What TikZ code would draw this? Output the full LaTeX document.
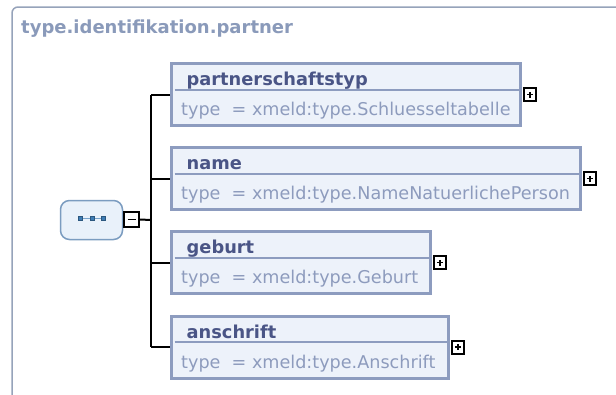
\documentclass[tikz,border=0pt]{standalone}
\usepackage{fontspec}
\setmainfont{DejaVu Sans}
\definecolor{framec}{RGB}{150,163,186}
\definecolor{ttlc}{RGB}{138,154,186}
\definecolor{bordc}{RGB}{141,156,191}
\definecolor{boxfillc}{RGB}{237,242,250}
\definecolor{enamec}{RGB}{74,85,134}
\definecolor{etypec}{RGB}{141,155,189}
\definecolor{seqfillc}{RGB}{233,241,250}
\definecolor{seqdrawc}{RGB}{123,156,192}
\definecolor{seqiconc}{RGB}{61,124,181}
\begin{document}
\begin{tikzpicture}[x=1pt,y=-1pt,
  elem/.style={draw=bordc, line width=3pt, fill=boxfillc, anchor=north west,
    minimum height=62pt, inner sep=0pt, outer sep=0pt},
  ename/.style={anchor=base west, inner sep=0pt, text=enamec,
    font=\fontsize{17.8}{20}\selectfont\bfseries},
  etype/.style={anchor=base west, inner sep=0pt, text=etypec,
    font=\fontsize{17.6}{20}\selectfont},
  divider/.style={draw=bordc, line width=2pt},
  conn/.style={draw=black, line width=2pt},
  plusbox/.style={draw=black, line width=2pt, fill=white, minimum width=12pt,
    minimum height=13pt, inner sep=0pt, anchor=west},
  sign/.style={draw=black, line width=1.8pt},
  seqbox/.style={draw=seqdrawc, fill=seqfillc, line width=1.5pt, rounded corners=9pt,
    minimum width=62pt, minimum height=39pt, inner sep=0pt},
  minusbox/.style={draw=black, line width=2pt, fill=white, minimum width=15pt,
    minimum height=15pt, inner sep=0pt},
  sq/.style={fill=seqiconc, draw=seqiconc!70!black, line width=0.4pt, minimum size=4pt, inner sep=0pt}
]
\useasboundingbox (0,0) rectangle (616,394);
\fill[white] (0,0) rectangle (616,394);
% outer frame
\draw[framec, line width=1.5pt, rounded corners=6pt] (618,7) -- (12,7) -- (12,396);
\node[anchor=base west, inner sep=0pt, text=ttlc, font=\fontsize{18}{20}\selectfont\bfseries]
  (title) at (21,33) {type.identifikation.partner};

% element boxes
\node[elem, minimum width=349pt] (b1) at (171.5,63.5) {};
\node[elem, minimum width=409pt] (b2) at (171.5,147.5) {};
\node[elem, minimum width=259pt] (b3) at (171.5,231.5) {};
\node[elem, minimum width=277pt] (b4) at (171.5,316) {};

\foreach \b in {b1,b2,b3,b4}{
  \draw[divider] ([xshift=3pt,yshift=-26pt]\b.north west) -- ([xshift=-1pt,yshift=-26pt]\b.north east);
}

\node[ename] (n1) at ([xshift=15pt,yshift=-22pt]b1.north west) {partnerschaftstyp};
\node[etype] (t1) at ([xshift=9.5pt,yshift=-52pt]b1.north west) {type\ \ = xmeld:type.Schluesseltabelle};
\node[ename] (n2) at ([xshift=15pt,yshift=-22pt]b2.north west) {name};
\node[etype] (t2) at ([xshift=9.5pt,yshift=-52pt]b2.north west) {type\ \ = xmeld:type.NameNatuerlichePerson};
\node[ename] (n3) at ([xshift=15pt,yshift=-22pt]b3.north west) {geburt};
\node[etype] (t3) at ([xshift=9.5pt,yshift=-52pt]b3.north west) {type\ \ = xmeld:type.Geburt};
\node[ename] (n4) at ([xshift=15pt,yshift=-22pt]b4.north west) {anschrift};
\node[etype] (t4) at ([xshift=9.5pt,yshift=-52pt]b4.north west) {type\ \ = xmeld:type.Anschrift};

% plus boxes
\foreach \b in {b1,b2,b3,b4}{
  \node[plusbox] (p\b) at ([xshift=2.5pt]\b.east) {};
  \draw[sign] ([xshift=-3pt]p\b.center) -- ([xshift=3pt]p\b.center);
  \draw[sign] ([yshift=-3pt]p\b.center) -- ([yshift=3pt]p\b.center);
}

% sequence compositor
\node[seqbox] (seq) at (91.5,220) {};
\draw[seqiconc!70, line width=0.8pt] ([xshift=-11pt,yshift=1.5pt]seq.center) -- ([xshift=12pt,yshift=1.5pt]seq.center);
\node[sq] (s1) at ([xshift=-11pt,yshift=1.5pt]seq.center) {};
\node[sq] (s2) at ([xshift=0.5pt,yshift=1.5pt]seq.center) {};
\node[sq] (s3) at ([xshift=12pt,yshift=1.5pt]seq.center) {};

\node[minusbox] (minus) at (131.5,219.5) {};
\draw[sign] ([xshift=-4pt]minus.center) -- ([xshift=4pt]minus.center);

% connectors
\coordinate (j) at (151,220);
\draw[conn] (minus.east) -- (j);
\draw[conn] (j |- b1.west) -- (j |- b4.west);
\foreach \b in {b1,b2,b3,b4}{
  \draw[conn, shorten >=1.5pt] (j |- \b.west) -- (\b.west);
}
\end{tikzpicture}
\end{document}
